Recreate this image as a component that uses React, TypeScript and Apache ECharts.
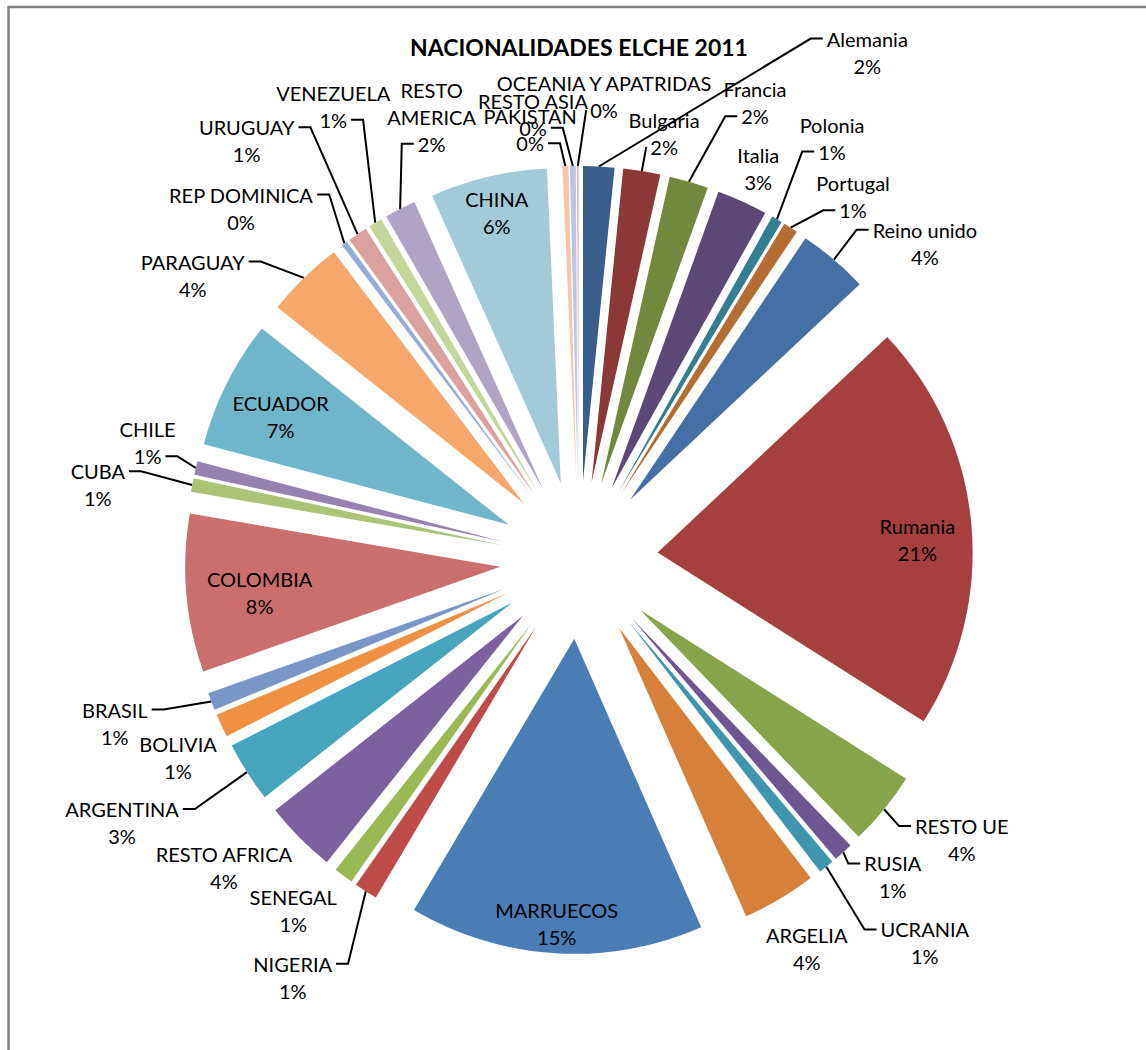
import React, { useEffect, useRef } from 'react';
import * as echarts from 'echarts';

const chartTitle = 'NACIONALIDADES ELCHE 2011';

const categories = [
  'Alemania', 'Bulgaria', 'Francia', 'Italia', 'Polonia', 'Portugal', 'Reino unido',
  'Rumania', 'RESTO UE', 'RUSIA', 'UCRANIA', 'ARGELIA', 'MARRUECOS', 'NIGERIA',
  'SENEGAL', 'RESTO AFRICA', 'ARGENTINA', 'BOLIVIA', 'BRASIL', 'COLOMBIA', 'CUBA',
  'CHILE', 'ECUADOR', 'PARAGUAY', 'REP DOMINICA', 'URUGUAY', 'VENEZUELA',
  'RESTO AMERICA', 'CHINA', 'PAKISTAN', 'RESTO ASIA', 'OCEANIA Y APATRIDAS',
];

const values = [
  1.6, 1.9, 2.0, 2.6, 0.55, 0.75, 3.6,
  21.0, 3.8, 1.0, 0.8, 3.8, 15.1, 1.2,
  1.0, 3.7, 3.1, 1.2, 0.9, 8.1, 0.7,
  0.7, 6.6, 4.0, 0.3, 1.0, 0.7,
  1.6, 6.0, 0.3, 0.3, 0.1,
];

const colors = [
  '#385d8a', '#8c3836', '#71893f', '#5c4776', '#357d91', '#b66d31', '#4470a5',
  '#a6403f', '#86a44a', '#6f5591', '#3f95ad', '#d68039', '#4a7cb6', '#be4b48',
  '#98b954', '#7d60a0', '#46a5bd', '#ef9144', '#7896c8', '#ca6f6d', '#a9c476',
  '#9781b1', '#70b6cb', '#f7a76b', '#94acd6', '#dba19f', '#c3d69b',
  '#afa3c6', '#a2cad9', '#fbc3a2', '#b7c6e4', '#e6b9b8',
];

// label layout: [angle shift from slice middle (deg), distance of label centre from pie centre (px)]
const labelSpots: Record<string, [number, number]> = {
  Alemania: [26.7, 584], Bulgaria: [2.1, 435], Francia: [4.86, 490], Italia: [0.1, 431],
  Polonia: [0.8, 492], Portugal: [4.55, 455], 'Reino unido': [7.2, 469], Rumania: [2.0, 339],
  'RESTO UE': [-3.1, 474], RUSIA: [-2.6, 446], UCRANIA: [-3.2, 516], ARGELIA: [0.2, 450],
  MARRUECOS: [0.1, 364], NIGERIA: [1.7, 506], SENEGAL: [2.5, 452], 'RESTO AFRICA': [3.9, 470],
  ARGENTINA: [2.7, 527], BOLIVIA: [-1.4, 447], BRASIL: [1.7, 492], COLOMBIA: [-1.0, 321],
  CUBA: [-2.1, 487], CHILE: [1.7, 447], ECUADOR: [-1.0, 331], PARAGUAY: [-9.3, 480],
  'REP DOMINICA': [-7.3, 488], URUGUAY: [-4.2, 535], VENEZUELA: [2.7, 516],
  'RESTO AMERICA': [8.6, 467], CHINA: [0, 357], PAKISTAN: [-4.5, 433],
  'RESTO ASIA': [-5.0, 448], 'OCEANIA Y APATRIDAS': [3.27, 464],
};

const insideLabelNames = ['Rumania', 'MARRUECOS', 'COLOMBIA', 'ECUADOR', 'CHINA'];
const noLineNames = ['Italia', 'ARGELIA', 'SENEGAL', 'RESTO AFRICA', 'BOLIVIA'];
const wrappedNames = ['RESTO AMERICA'];

export default function App() {
  const ref = useRef<HTMLDivElement>(null);
  useEffect(() => {
    if (!ref.current) return;
    const chart = echarts.init(ref.current, null, { renderer: 'svg' });
    const total = values.reduce((a, b) => a + b, 0);
    const pct = (v: number) => Math.round((v / total) * 100) + '%';
    const FONT = 'Lato, "Open Sans", sans-serif';
    const FS = 20;
    const LH = 27;
    const CX = 579;
    const CY = 560;
    const R = 315;
    const OFF = 79;
    const ROUT = R + OFF;
    const mids: number[] = [];
    let acc = 0;
    values.forEach((v) => {
      mids.push(((acc + v / 2) / total) * 360);
      acc += v;
    });
    const labelText = (name: string, v: number) => {
      const n = wrappedNames.includes(name) ? name.replace(' ', '\n') : name;
      return n + '\n' + pct(v);
    };
    const ctx = document.createElement('canvas').getContext('2d') as CanvasRenderingContext2D;
    ctx.font = `${FS}px ${FONT}`;

    const labelLayout = (p: any) => {
      const i = p.dataIndex;
      const name = categories[i];
      const spot = labelSpots[name];
      if (!spot) return {};
      const a = ((mids[i] + spot[0]) * Math.PI) / 180;
      const x = CX + spot[1] * Math.sin(a);
      const y = CY - spot[1] * Math.cos(a);
      const res: any = { x, y, align: 'center', verticalAlign: 'middle' };
      if (!insideLabelNames.includes(name) && !noLineNames.includes(name)) {
        const m = (mids[i] * Math.PI) / 180;
        const px = CX + ROUT * Math.sin(m);
        const py = CY - ROUT * Math.cos(m);
        const lines = labelText(name, values[i]).split('\n');
        const top = y - (lines.length * LH) / 2;
        const side = px < x ? -1 : 1;
        let best = [x, y];
        let bd = Infinity;
        lines.forEach((t, k) => {
          const w = ctx.measureText(t).width;
          const ex = x + side * (w / 2 + 4);
          const ey = top + LH * (k + 0.5);
          const d = Math.hypot(ex - px, ey - py);
          if (d < bd) {
            bd = d;
            best = [ex, ey];
          }
        });
        if ((px - best[0]) * side < 12) {
          res.labelLinePoints = [[px, py], [best[0], best[1]], [best[0], best[1]]];
        } else {
          res.labelLinePoints = [[px, py], [best[0] + side * 12, best[1]], [best[0], best[1]]];
        }
      }
      return res;
    };

    chart.setOption({
      animation: false,
      backgroundColor: '#ffffff',
      title: {
        text: chartTitle,
        left: 574,
        top: 30,
        textAlign: 'center',
        textStyle: { fontFamily: FONT, fontSize: 23, fontWeight: 'bold', color: '#000' },
      },
      graphic: [
        {
          type: 'rect',
          shape: { x: 8.5, y: 7, width: 3000, height: 3000 },
          style: { fill: 'none', stroke: '#808080', lineWidth: 2.5 },
          silent: true,
        },
      ],
      series: [
        {
          type: 'pie',
          center: [CX, CY],
          radius: [0, R],
          startAngle: 90,
          clockwise: true,
          selectedMode: 'multiple',
          selectedOffset: OFF,
          silent: true,
          emphasis: { disabled: true },
          label: { show: false },
          labelLine: { show: false },
          data: categories.map((name, i) => ({
            name,
            value: values[i],
            selected: true,
            itemStyle: { color: colors[i] },
          })),
        },
        {
          type: 'pie',
          center: [CX, CY],
          radius: [290, ROUT],
          startAngle: 90,
          clockwise: true,
          silent: true,
          avoidLabelOverlap: false,
          emphasis: { disabled: true },
          itemStyle: { color: 'rgba(0,0,0,0)' },
          label: {
            show: true,
            position: 'outside',
            formatter: (p: any) => labelText(p.name, p.value),
            fontFamily: FONT,
            fontSize: FS,
            lineHeight: LH,
            color: '#000',
          },
          labelLine: { show: true, length: 10, length2: 10, smooth: false, lineStyle: { color: '#000', width: 2 } },
          labelLayout,
          data: categories.map((name, i) => ({
            name,
            value: values[i],
            labelLine: { show: !insideLabelNames.includes(name) && !noLineNames.includes(name) },
          })),
        },
      ],
    });
    return () => chart.dispose();
  }, []);
  return (
    <div
      ref={ref}
      style={{ position: 'absolute', left: 0, top: 0, width: 1146, height: 1050 }}
    />
  );
}
